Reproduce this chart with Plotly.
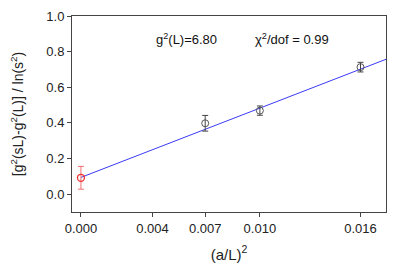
import plotly.graph_objects as go

# data
x_red = [0.0]
y_red = [0.092]
e_red = [0.064]

x_pts = [1/144, 1/100, 1/64]
y_pts = [0.398, 0.469, 0.713]
e_pts = [0.044, 0.026, 0.027]

x_fit = [0.0, 0.0172]
y_fit = [0.094, 0.763]

tick_vals = [0.0, 0.004, 1/144, 0.010, 1/64]
tick_text = ["0.000", "0.004", "0.007", "0.010", "0.016"]

font = "Liberation Sans, Arial, sans-serif"

fig = go.Figure()
fig.add_trace(go.Scatter(x=x_fit, y=y_fit, mode="lines",
                         line=dict(color="#3a3af5", width=1), showlegend=False))
fig.add_trace(go.Scatter(x=x_pts, y=y_pts, mode="markers",
                         marker=dict(symbol="circle-open", size=7, color="#555555", line=dict(width=1)),
                         error_y=dict(type="data", array=e_pts, color="#444444", thickness=1, width=3),
                         showlegend=False))
fig.add_trace(go.Scatter(x=x_red, y=y_red, mode="markers",
                         marker=dict(symbol="circle-open", size=7, color="#ee3333", line=dict(width=1.3)),
                         error_y=dict(type="data", array=e_red, color="#f07070", thickness=1, width=3),
                         showlegend=False))

fig.add_annotation(x=0.0059, y=0.873, xref="x", yref="y", showarrow=False,
                   text="g<sup>2</sup>(L)=6.80", font=dict(family=font, size=13, color="#111"))
fig.add_annotation(x=0.0118, y=0.873, xref="x", yref="y", showarrow=False,
                   text="χ<sup>2</sup>/dof = 0.99", font=dict(family=font, size=13, color="#111"))

fig.update_layout(
    width=401, height=265,
    margin=dict(l=64, r=23, t=8, b=61),
    paper_bgcolor="white", plot_bgcolor="white",
    font=dict(family=font, size=13, color="#222"),
)
fig.update_xaxes(range=[-0.0005, 0.01705], tickvals=tick_vals, ticktext=tick_text,
                 showgrid=False, zeroline=False, showline=True, linecolor="#444", linewidth=1,
                 mirror=True, ticks="outside", ticklen=4, tickcolor="#444", automargin=False,
                 tickfont=dict(size=13),
                 title=dict(text="(a/L)<sup>2</sup>", font=dict(size=15), standoff=14))
fig.update_yaxes(range=[-0.1, 1.0], tickvals=[0, 0.2, 0.4, 0.6, 0.8, 1.0],
                 ticktext=["0.0", "0.2", "0.4", "0.6", "0.8", "1.0"],
                 showgrid=False, zeroline=False, showline=True, linecolor="#444", linewidth=1,
                 mirror=True, ticks="outside", ticklen=4, tickcolor="#444", automargin=False,
                 tickfont=dict(size=13),
                 title=dict(text="[g<sup>2</sup>(sL)-g<sup>2</sup>(L)] / ln(s<sup>2</sup>)", font=dict(size=14), standoff=24))

fig.write_html("out.html")
